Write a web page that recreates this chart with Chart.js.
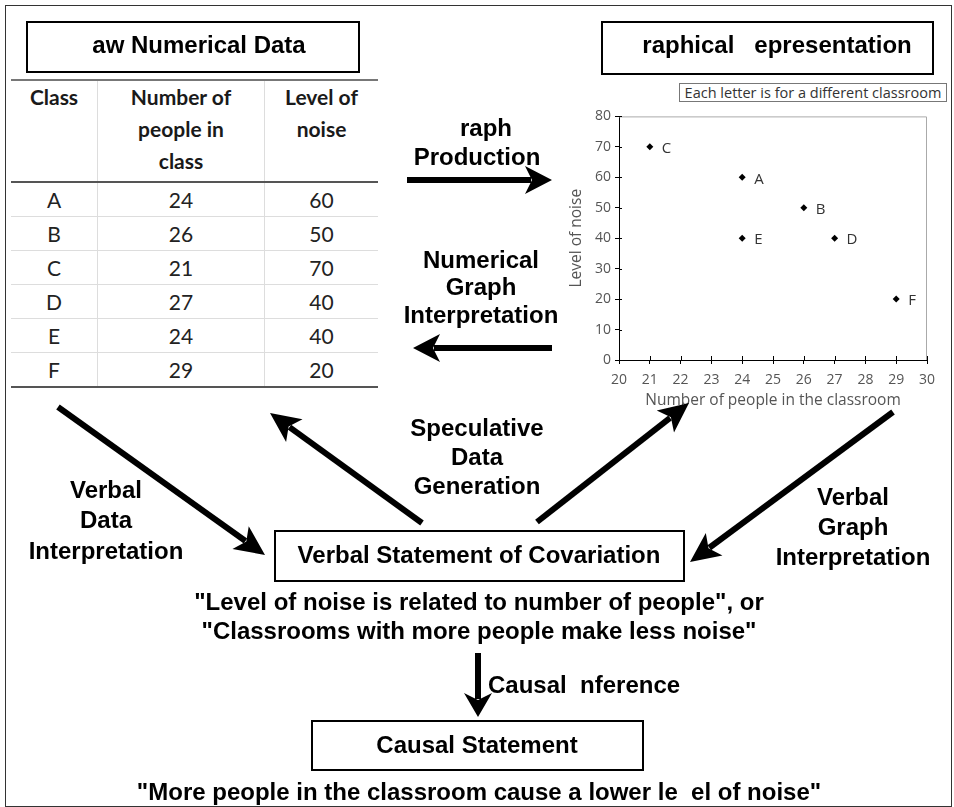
<!DOCTYPE html>
<html>
<head>
<meta charset="utf-8">
<script src="https://cdn.jsdelivr.net/npm/chart.js@4.4.1/dist/chart.umd.min.js"></script>
<style>
  body { margin: 0; background: #fff; }
  #page { position: relative; width: 954px; height: 807px; overflow: hidden; font-family: "Liberation Sans", Arial, sans-serif; }
  .frame { position: absolute; left: 5px; top: 5px; width: 947px; height: 802px; border: 1.5px solid #333; box-sizing: border-box; }
  .box { position: absolute; border: 2px solid #000; box-sizing: border-box; }
  .lbl { position: absolute; transform: translate(-50%, -50%); white-space: pre; font-weight: bold; font-size: 24px; color: #000; }
  .lbl.left { transform: translate(0, -50%); }
  #arrows { position: absolute; left: 0; top: 0; }
  #data { position: absolute; left: 11px; top: 79px; border-collapse: collapse; font-family: "Lato", "Open Sans", sans-serif; color: #222; }
  #data th { font-weight: bold; font-size: 21px; line-height: 32px; vertical-align: top; height: 100px; padding: 0; color: #1a1a1a;
             border-top: 2px solid #777; border-bottom: 2px solid #555; border-left: 1px solid #ddd; }
  #data td { font-size: 21px; height: 33px; padding: 0; text-align: center; border-bottom: 1px solid #ddd; border-left: 1px solid #ddd; }
  #data tr:last-child td { border-bottom: 2px solid #555; }
  #data th:first-child, #data td:first-child { border-left: none; }
  #legendNote { position: absolute; left: 679px; top: 83px; width: 268px; height: 19px; border: 1px solid #777; box-sizing: border-box;
                font: 14.5px "Open Sans", sans-serif; color: #333; text-align: center; line-height: 17px; white-space: nowrap; }
  #chartWrap { position: absolute; left: 560px; top: 104px; width: 392px; height: 314px; }
</style>
</head>
<body>
<div id="page">
  <div class="frame"></div>
  <div class="box" style="left:26px;top:21px;width:334px;height:52px;"></div>
  <div class="box" style="left:601px;top:21px;width:333px;height:54px;"></div>
  <div class="box" style="left:274px;top:530px;width:411px;height:52px;"></div>
  <div class="box" style="left:311px;top:720px;width:333px;height:51px;"></div>
  <table id="data">
    <thead><tr id="headRow"></tr></thead>
    <tbody id="bodyRows"></tbody>
  </table>
  <div id="legendNote">Each letter is for a different classroom</div>
  <div id="chartWrap"><canvas id="scatter" width="392" height="314"></canvas></div>
  <svg id="arrows" width="954" height="807"></svg>
</div>
<script>
// values
const classes = ['A', 'B', 'C', 'D', 'E', 'F'];
const people = [24, 26, 21, 27, 24, 29];
const noise = [60, 50, 70, 40, 40, 20];
const tableHeaders = ['Class', 'Number of\npeople in\nclass', 'Level of\nnoise'];
const xTickValues = [20, 21, 22, 23, 24, 25, 26, 27, 28, 29, 30];
const yTickValues = [0, 10, 20, 30, 40, 50, 60, 70, 80];

const chartFont = '"Open Sans", sans-serif';
const page = document.getElementById('page');

// table
const colWidths = [86, 166, 113];
const headRow = document.getElementById('headRow');
tableHeaders.forEach((h, i) => {
    const th = document.createElement('th');
    th.style.width = colWidths[i] + 'px';
    th.innerHTML = h.split('\n').join('<br>');
    headRow.appendChild(th);
});
const bodyRows = document.getElementById('bodyRows');
classes.forEach((c, i) => {
    const tr = document.createElement('tr');
    [c, people[i], noise[i]].forEach(v => {
        const td = document.createElement('td');
        td.textContent = v;
        tr.appendChild(td);
    });
    bodyRows.appendChild(tr);
});

// bold diagram labels
function label(text, x, y, cls) {
    const d = document.createElement('div');
    d.className = 'lbl' + (cls ? ' ' + cls : '');
    d.style.left = x + 'px';
    d.style.top = y + 'px';
    d.textContent = text;
    page.appendChild(d);
}
label('aw Numerical Data', 199, 45);
label('raphical   epresentation', 777, 45);
label('raph', 486, 128);
label('Production', 477, 157);
label('Numerical', 481, 260);
label('Graph', 481, 287);
label('Interpretation', 481, 315);
label('Speculative', 477, 428);
label('Data', 477, 457);
label('Generation', 477, 486);
label('Verbal', 106, 490);
label('Data', 106, 520);
label('Interpretation', 106, 551);
label('Verbal', 853, 497);
label('Graph', 853, 527);
label('Interpretation', 853, 557);
label('Verbal Statement of Covariation', 479, 555);
label('"Level of noise is related to number of people", or', 479, 602);
label('"Classrooms with more people make less noise"', 479, 631);
label('Causal  nference', 488, 685, 'left');
label('Causal Statement', 477, 745);
label('"More people in the classroom cause a lower le  el of noise"', 479, 792);

// arrows
const svg = document.getElementById('arrows');
function arrow(x1, y1, x2, y2, w, headLen, headHalf) {
    const ang = Math.atan2(y2 - y1, x2 - x1);
    const cos = Math.cos(ang), sin = Math.sin(ang);
    const pt = (a, b) => [x2 - a * cos + b * sin, y2 - a * sin - b * cos];
    const base = pt(headLen - 6, 0);
    const line = document.createElementNS('http://www.w3.org/2000/svg', 'line');
    line.setAttribute('x1', x1); line.setAttribute('y1', y1);
    line.setAttribute('x2', base[0]); line.setAttribute('y2', base[1]);
    line.setAttribute('stroke', '#000'); line.setAttribute('stroke-width', w);
    svg.appendChild(line);
    const pts = [[x2, y2], pt(headLen, headHalf), pt(headLen - 7, 0), pt(headLen, -headHalf)];
    const poly = document.createElementNS('http://www.w3.org/2000/svg', 'polygon');
    poly.setAttribute('points', pts.map(p => p.join(',')).join(' '));
    poly.setAttribute('fill', '#000');
    svg.appendChild(poly);
}
arrow(407, 180, 552, 180, 6, 27, 14);
arrow(552, 348, 413, 348, 6, 27, 14);
arrow(58, 407, 265, 555, 6, 30, 14);
arrow(422, 523, 270, 413, 6, 30, 14);
arrow(537, 522, 689, 403, 6, 30, 14);
arrow(893, 412, 690, 562, 6, 30, 14);
arrow(478, 653, 478, 717, 6, 24, 14);

// scatter chart
const plotFrame = {
    id: 'plotFrame',
    beforeDatasetsDraw(chart) {
        const { ctx, chartArea: a } = chart;
        ctx.save();
        ctx.strokeStyle = '#aaa';
        ctx.lineWidth = 1;
        ctx.beginPath();
        ctx.moveTo(a.left, a.top + 0.5);
        ctx.lineTo(a.right - 0.5, a.top + 0.5);
        ctx.lineTo(a.right - 0.5, a.bottom);
        ctx.stroke();
        ctx.restore();
    }
};

const innerTicks = {
    id: 'innerTicks',
    afterDraw(chart) {
        const { ctx, chartArea: a, scales } = chart;
        ctx.save();
        ctx.strokeStyle = '#000';
        ctx.lineWidth = 1;
        ctx.beginPath();
        scales.x.ticks.forEach(t => {
            const px = Math.round(scales.x.getPixelForValue(t.value)) + 0.5;
            ctx.moveTo(px, a.bottom);
            ctx.lineTo(px, a.bottom - 4);
        });
        scales.y.ticks.forEach(t => {
            const py = Math.round(scales.y.getPixelForValue(t.value)) + 0.5;
            ctx.moveTo(a.left, py);
            ctx.lineTo(a.left + 3, py);
        });
        ctx.stroke();
        ctx.restore();
    }
};

const pointLabels = {
    id: 'pointLabels',
    afterDatasetsDraw(chart) {
        const ctx = chart.ctx;
        const meta = chart.getDatasetMeta(0);
        ctx.save();
        ctx.font = '15px ' + chartFont;
        ctx.fillStyle = '#333';
        ctx.textAlign = 'left';
        ctx.textBaseline = 'middle';
        meta.data.forEach((el, i) => {
            ctx.fillText(classes[i], el.x + 12, el.y + 2);
        });
        ctx.restore();
    }
};

new Chart(document.getElementById('scatter'), {
    type: 'scatter',
    data: {
        datasets: [{
            data: people.map((p, i) => ({ x: p, y: noise[i] })),
            pointStyle: 'rectRot',
            pointRadius: 3.5,
            backgroundColor: '#000',
            borderColor: '#000',
            borderWidth: 0
        }]
    },
    options: {
        responsive: false,
        animation: false,
        layout: { padding: { top: 10, right: 25, left: 0, bottom: 0 } },
        plugins: { legend: { display: false }, tooltip: { enabled: false } },
        scales: {
            x: {
                type: 'linear', min: 20, max: 30,
                afterBuildTicks: s => { s.ticks = xTickValues.map(v => ({ value: v })); },
                afterFit: s => { s.height = 58; },
                grid: { drawOnChartArea: false, color: '#000', tickLength: 4 },
                border: { color: '#000', width: 1 },
                ticks: { color: '#555', font: { family: chartFont, size: 14 }, padding: 8, maxRotation: 0, autoSkip: false },
                title: { display: true, text: 'Number of people in the classroom', color: '#555',
                         font: { family: chartFont, size: 15.5 }, padding: { top: 0, bottom: 8 } }
            },
            y: {
                type: 'linear', min: 0, max: 80,
                afterBuildTicks: s => { s.ticks = yTickValues.map(v => ({ value: v })); },
                afterFit: s => { s.width = 59; },
                grid: { drawOnChartArea: false, color: '#000', tickLength: 4 },
                border: { color: '#000', width: 1 },
                ticks: { color: '#555', font: { family: chartFont, size: 14 }, padding: 4, autoSkip: false },
                title: { display: true, text: 'Level of noise', color: '#555',
                         font: { family: chartFont, size: 15.5 }, padding: { top: 7, bottom: 0 } }
            }
        }
    },
    plugins: [plotFrame, innerTicks, pointLabels]
});
</script>
</body>
</html>
